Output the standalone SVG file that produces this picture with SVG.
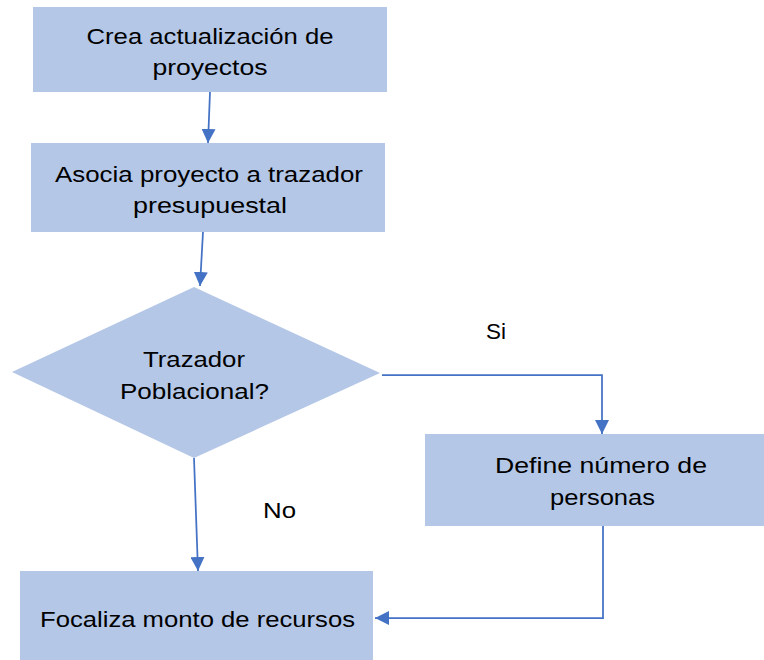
<svg xmlns="http://www.w3.org/2000/svg" width="764" height="660" viewBox="0 0 764 660">
  <defs>
    <style>
      .node { fill: #B4C7E7; stroke: none; }
      .lbl { font-family: "Liberation Sans", Arial, sans-serif; font-size: 22px; fill: #000000; text-anchor: middle; }
      .edge-lbl { font-family: "Liberation Sans", Arial, sans-serif; font-size: 22px; fill: #000000; }
      .conn { fill: none; stroke: #4472C4; stroke-width: 1.75; marker-end: url(#arrow); }
    </style>
    <marker id="arrow" markerUnits="userSpaceOnUse" markerWidth="14" markerHeight="14" refX="14" refY="7" orient="auto">
      <path d="M0,0 L14,7 L0,14 Z" fill="#4472C4"/>
    </marker>
  </defs>
  <rect width="764" height="660" fill="#FFFFFF"/>

  <g id="n1">
    <rect class="node" x="33" y="7" width="354" height="85"/>
    <text class="lbl" x="210" y="44" textLength="247" lengthAdjust="spacingAndGlyphs">Crea actualización de</text>
    <text class="lbl" x="210" y="75" textLength="115" lengthAdjust="spacingAndGlyphs">proyectos</text>
  </g>

  <g id="n2">
    <rect class="node" x="31" y="143" width="354" height="89"/>
    <text class="lbl" x="209" y="182" textLength="308" lengthAdjust="spacingAndGlyphs">Asocia proyecto a trazador</text>
    <text class="lbl" x="210" y="213" textLength="154" lengthAdjust="spacingAndGlyphs">presupuestal</text>
  </g>

  <g id="n3">
    <polygon class="node" points="194,287 380,373 194,458 12,372"/>
    <text class="lbl" x="194" y="367" textLength="102" lengthAdjust="spacingAndGlyphs">Trazador</text>
    <text class="lbl" x="194.5" y="399" textLength="149" lengthAdjust="spacingAndGlyphs">Poblacional?</text>
  </g>

  <g id="n4">
    <rect class="node" x="425" y="434" width="339" height="92"/>
    <text class="lbl" x="601" y="473" textLength="212" lengthAdjust="spacingAndGlyphs">Define número de</text>
    <text class="lbl" x="602.5" y="505" textLength="105" lengthAdjust="spacingAndGlyphs">personas</text>
  </g>

  <g id="n5">
    <rect class="node" x="20" y="571" width="353" height="89"/>
    <text class="lbl" x="197.5" y="627" textLength="315" lengthAdjust="spacingAndGlyphs">Focaliza monto de recursos</text>
  </g>

  <g id="connectors">
    <path class="conn" d="M210,92 L208,143"/>
    <path class="conn" d="M203,232 L200,286"/>
    <path class="conn" d="M382,375 L602,375 L602,434"/>
    <path class="conn" d="M194,458 L198,571"/>
    <path class="conn" d="M603,526 L603,618 L375,618"/>
    <text class="edge-lbl" x="486" y="339" textLength="20" lengthAdjust="spacingAndGlyphs">Si</text>
    <text class="edge-lbl" x="263" y="518" textLength="33" lengthAdjust="spacingAndGlyphs">No</text>
  </g>
</svg>
